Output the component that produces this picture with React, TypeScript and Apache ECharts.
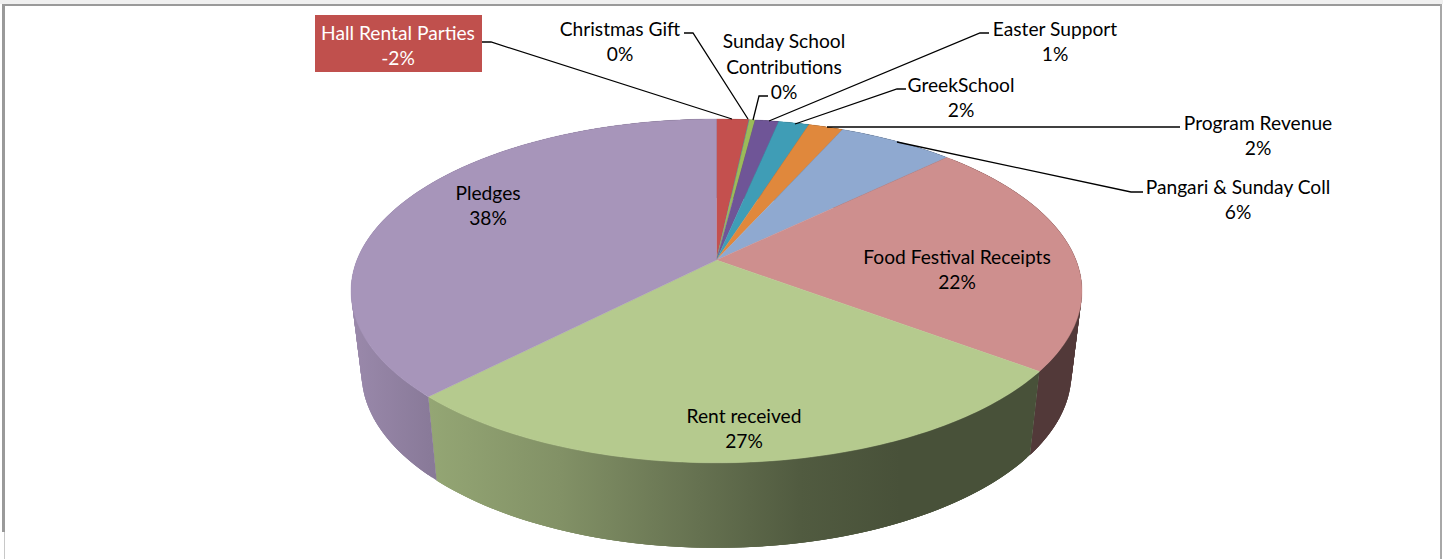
import React, { useEffect, useRef } from "react";
import * as echarts from "echarts";

// Income categories, clockwise from twelve o'clock, in percent of the total.
const categories = [
  "Hall Rental Parties",
  "Christmas Gift",
  "Sunday School\nContributions",
  "Easter Support",
  "GreekSchool",
  "Program Revenue",
  "Pangari & Sunday Coll",
  "Food Festival Receipts",
  "Rent received",
  "Pledges",
];
const shares = [-1.7, 0.02, 0.3, 1.24, 1.61, 1.82, 6.11, 22.4, 27.1, 37.7];
const sliceColors = [
  "#C4504E", "#4F81BD", "#9BBB59", "#6F5597", "#3F9DB6",
  "#E0883C", "#8FA9D0", "#CE8F8E", "#B5CA8E", "#A795BA",
];

// Projection of the pie disc: perspective on the top face, so the hub sits above the ellipse centre.
const CX = 716.5;
const TOP_CY = 291;
const TOP_RY = 172;
const PERSP = 0.18;
const SCALE_X = 359.5;
const SCALE_Y = 119.55;
const HUB_Y = 260;
// Rim of the base, a narrower ellipse lower down.
const BASE_CY = 373;
const BASE_RX_RATIO = 355 / 365.5;
const BASE_RY_RATIO = 175 / TOP_RY;

const FONT = "Lato";
const FONT_SIZE = 19.2;

// Horizontal lighting of the side wall: x position and brightness factor.
const wallLight: [number, number][] = [
  [351, 0.92], [430, 0.82], [560, 0.72], [700, 0.56], [800, 0.45], [900, 0.4], [1082, 0.4],
];

type Anchor = { x: number; y: number; leader: number[][] };

const anchors: Anchor[] = [
  { x: 398, y: 45, leader: [[482, 42], [491, 42], [732, 119]] },
  { x: 620, y: 41, leader: [[684, 33], [693, 33], [748, 119]] },
  { x: 784, y: 66, leader: [[768, 96], [759, 96], [753, 120]] },
  { x: 1055, y: 41, leader: [[989, 33], [980, 33], [769, 121]] },
  { x: 961, y: 97, leader: [[906, 89], [897, 89], [795, 124]] },
  { x: 1258, y: 135, leader: [[1180, 127], [827, 127]] },
  { x: 1238, y: 199, leader: [[1143, 192], [1131, 192], [897, 142]] },
  { x: 957, y: 269, leader: [] },
  { x: 744, y: 428, leader: [] },
  { x: 488, y: 205, leader: [] },
];

function topPoint(angle: number): number[] {
  const u = Math.sin(angle);
  const v = -Math.cos(angle);
  const w = 1 - PERSP * v;
  return [CX + (SCALE_X * u) / w, (SCALE_Y * v + HUB_Y) / w];
}

function basePoint(angle: number): number[] {
  const [x, y] = topPoint(angle);
  return [CX + (x - CX) * BASE_RX_RATIO, BASE_CY + (y - TOP_CY) * BASE_RY_RATIO];
}

function angleSteps(from: number, to: number): number[] {
  const steps = Math.max(2, Math.ceil(((to - from) * 180) / Math.PI));
  const out: number[] = [];
  for (let i = 0; i <= steps; i++) out.push(from + ((to - from) * i) / steps);
  return out;
}

const total = shares.reduce((s, v) => s + Math.abs(v), 0);
const bounds: number[] = [0];
shares.forEach((v, i) => bounds.push(bounds[i] + (Math.abs(v) / total) * Math.PI * 2));

function shade(hex: string, f: number): string {
  const n = parseInt(hex.slice(1), 16);
  const c = [(n >> 16) & 255, (n >> 8) & 255, n & 255].map((x) => Math.round(x * f));
  return `rgb(${c[0]},${c[1]},${c[2]})`;
}

function wallFill(hex: string) {
  const x0 = wallLight[0][0];
  const x1 = wallLight[wallLight.length - 1][0];
  return new echarts.graphic.LinearGradient(
    x0, 0, x1, 0,
    wallLight.map(([x, f]) => ({ offset: (x - x0) / (x1 - x0), color: shade(hex, f) })),
    true,
  );
}

const seriesData = shares.map((v, i) => [v, i]);

function buildOption() {
  return {
    animation: false,
    backgroundColor: "#ffffff",
    graphic: [
      { type: "rect", shape: { x: 0, y: 0, width: 1443, height: 4 }, style: { fill: "#f0f0f0" }, silent: true },
      { type: "rect", shape: { x: 2, y: 4, width: 1439, height: 2 }, style: { fill: "#9a9a9a" }, silent: true },
      { type: "rect", shape: { x: 2, y: 4, width: 3, height: 528 }, style: { fill: "#9a9a9a" }, silent: true },
      { type: "rect", shape: { x: 4, y: 532, width: 1, height: 27 }, style: { fill: "#c8c8c8" }, silent: true },
      { type: "rect", shape: { x: 1440, y: 4, width: 2, height: 555 }, style: { fill: "#a8a8a8" }, silent: true },
    ],
    series: [
      {
        // Side wall: overlapping quads, so the outline follows the tangent between both rims without seams.
        type: "custom",
        coordinateSystem: "none",
        silent: true,
        z: 2,
        data: seriesData,
        renderItem: (_p: any, api: any) => {
          const i = api.value(1);
          const fill = wallFill(sliceColors[i]);
          const angles = angleSteps(bounds[i], bounds[i + 1]);
          const children = angles.slice(0, -1).map((a, k) => {
            const next = angles[Math.min(k + 3, angles.length - 1)];
            return {
              type: "polygon",
              shape: { points: [topPoint(a), topPoint(next), basePoint(next), basePoint(a)] },
              style: { fill },
            };
          });
          return { type: "group", children };
        },
      },
      {
        type: "custom",
        coordinateSystem: "none",
        silent: true,
        z: 3,
        data: seriesData,
        renderItem: (_p: any, api: any) => {
          const i = api.value(1);
          const points = [[CX, HUB_Y], ...angleSteps(bounds[i], bounds[i + 1]).map(topPoint)];
          return {
            type: "polygon",
            shape: { points },
            style: { fill: sliceColors[i], stroke: sliceColors[i], lineWidth: 0.4 },
          };
        },
      },
      {
        type: "custom",
        coordinateSystem: "none",
        silent: true,
        z: 4,
        data: seriesData,
        renderItem: (_p: any, api: any) => {
          const i = api.value(1);
          const a = anchors[i];
          const children: any[] = [];
          if (i === 0) {
            children.push({
              type: "rect",
              shape: { x: 315, y: 15, width: 167, height: 57 },
              style: { fill: "#C0504D" },
            });
          }
          if (a.leader.length) {
            children.push({
              type: "polyline",
              shape: { points: a.leader },
              style: { fill: "none", stroke: "#000000", lineWidth: 1.3 },
            });
          }
          children.push({
            type: "text",
            x: a.x,
            y: a.y,
            style: {
              text: `${categories[i]}\n${Math.round(api.value(0))}%`,
              fill: i === 0 ? "#ffffff" : "#000000",
              font: `${FONT_SIZE}px ${FONT}`,
              lineHeight: 25.7,
              align: "center",
              verticalAlign: "middle",
            },
          });
          return { type: "group", children };
        },
      },
    ],
  };
}

export default function App() {
  const ref = useRef<HTMLDivElement>(null);
  useEffect(() => {
    document.body.style.margin = "0";
    const chart = echarts.init(ref.current!, undefined, { renderer: "svg" });
    chart.setOption(buildOption() as any);
    return () => chart.dispose();
  }, []);
  return <div ref={ref} style={{ width: 1443, height: 559 }} />;
}
